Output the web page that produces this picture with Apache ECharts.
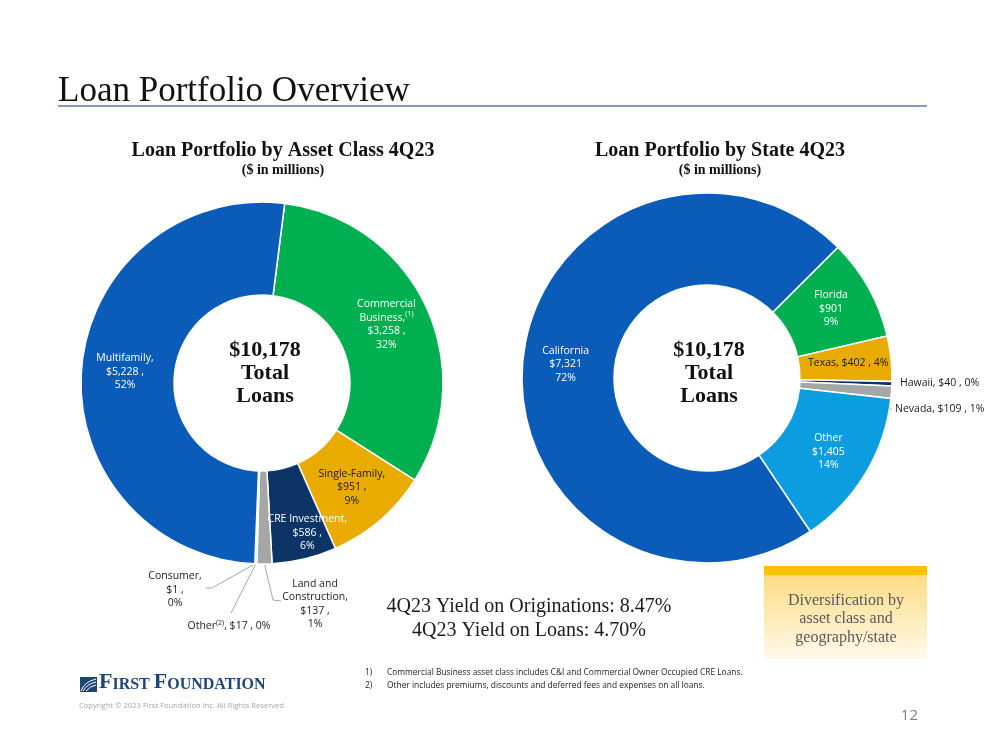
<!DOCTYPE html>
<html><head><meta charset="utf-8">
<script src="https://cdn.jsdelivr.net/npm/echarts@6/dist/echarts.min.js"></script>
<style>html,body{margin:0;padding:0;background:#fff}#c{width:999px;height:750px}</style>
</head><body><div id="c"></div>
<script>
// ---- data ----
const assetNames = ['Commercial Business', 'Single-Family', 'CRE Investment', 'Land and Construction', 'Other', 'Consumer', 'Multifamily'];
const assetValues = [3258, 951, 586, 137, 17, 1, 5228];
const assetPercents = [32, 9, 6, 1, 0, 0, 52];
const stateNames = ['Florida', 'Texas', 'Hawaii', 'Nevada', 'Other', 'California'];
const stateValues = [901, 402, 40, 109, 1405, 7321];
const statePercents = [9, 4, 0, 1, 14, 72];
const totalText = '$10,178\nTotal\nLoans';

// ---- styles ----
const assetColors = ['#00b050', '#eaab00', '#0c3466', '#a6a6a6', '#8fb8e6', '#dfe8f2', '#0a5cb8'];
const stateColors = ['#00b050', '#eaab00', '#0c3466', '#a6a6a6', '#0b9ddf', '#0a5cb8'];
const assetOutside = ['Land and Construction', 'Other', 'Consumer'];
const assetDark = ['Single-Family'];
const stateOutside = ['Hawaii', 'Nevada'];
const stateDark = ['Texas'];
const L = { cx: 262, cy: 383, r0: 88, r1: 181, start: 82.8 };
const R = { cx: 707, cy: 378, r0: 93, r1: 185, start: 45 };
const serif = '"Liberation Serif", "DejaVu Serif", serif';
const sans = '"Open Sans", "Noto Sans", sans-serif';

const money = v => '$' + v.toLocaleString('en-US');

function assetText(p) {
  const v = money(p.value), d = assetPercents[p.dataIndex] + '%';
  switch (p.name) {
    case 'Commercial Business': return 'Commercial\nBusiness,{sup|(1)}\n' + v + ' ,\n' + d;
    case 'Land and Construction': return 'Land and\nConstruction,\n' + v + ' ,\n' + d;
    case 'Other': return 'Other{sup|(2)}, ' + v + ' , ' + d;
    default: return p.name + ',\n' + v + ' ,\n' + d;
  }
}
function stateText(p) {
  const v = money(p.value), d = statePercents[p.dataIndex] + '%';
  if (['Texas', 'Hawaii', 'Nevada'].includes(p.name)) return p.name + ', ' + v + ' , ' + d;
  return p.name + '\n' + v + '\n' + d;
}

// point at mid-angle of slice i (fraction of outer radius)
function edgePoint(G, values, i, frac) {
  const tot = values.reduce((a, b) => a + b, 0);
  let acc = 0;
  for (let k = 0; k < i; k++) acc += values[k];
  const midDeg = (90 - G.start) + (acc + values[i] / 2) / tot * 360;
  const a = midDeg * Math.PI / 180, r = G.r1 * (frac || 1);
  return [G.cx + r * Math.sin(a), G.cy - r * Math.cos(a)];
}

function buildData(names, values, colors, outside, dark) {
  return names.map((n, i) => {
    const item = { name: n, value: values[i], itemStyle: { color: colors[i] } };
    if (outside.includes(n)) {
      item.label = { position: 'outside', color: '#1a1a1a' };
      item.labelLine = { show: true };
    } else if (dark.includes(n)) {
      item.label = { color: '#1a1a1a' };
    }
    return item;
  });
}

const labelBase = {
  show: true, position: 'inside', color: '#ffffff', fontFamily: sans, fontSize: 10.5,
  lineHeight: 13.5, align: 'center',
  rich: { sup: { fontSize: 7, lineHeight: 8, verticalAlign: 'top', padding: [0, 0, 6, 0] } }
};

const chart = echarts.init(document.getElementById('c'));

const option = {
  animation: false,
  backgroundColor: '#ffffff',
  series: [
    {
      type: 'pie', center: [L.cx, L.cy], radius: [L.r0, L.r1], startAngle: L.start, clockwise: true,
      avoidLabelOverlap: false, minAngle: 0,
      itemStyle: { borderColor: '#ffffff', borderWidth: 1.5 },
      label: Object.assign({}, labelBase, { formatter: assetText }),
      labelLine: { show: false, lineStyle: { color: '#a6a6a6', width: 1 } },
      emphasis: { disabled: true },
      data: buildData(assetNames, assetValues, assetColors, assetOutside, assetDark),
      labelLayout: function (p) {
        const n = assetNames[p.dataIndex];
        const pt = (dx, dy) => [L.cx + dx, L.cy + dy];
        const s = (p.labelLinePoints && p.labelLinePoints[0]) || edgePoint(L, assetValues, p.dataIndex);
        if (n === 'Land and Construction') return { x: L.cx + 53, y: L.cy + 221, align: 'center', verticalAlign: 'middle', labelLinePoints: [s, pt(11, 217), pt(19, 218)] };
        if (n === 'Consumer') return { x: L.cx - 87, y: L.cy + 207, align: 'center', verticalAlign: 'middle', labelLinePoints: [s, pt(-50, 205), pt(-56, 205)] };
        if (n === 'Other') return { x: L.cx - 33, y: L.cy + 243, align: 'center', verticalAlign: 'middle', labelLinePoints: [s, pt(-31, 230), pt(-31, 230)] };
        if (n === 'CRE Investment') return { dx: 13, dy: 16 };
        return {};
      }
    },
    {
      type: 'pie', center: [R.cx, R.cy], radius: [R.r0, R.r1], startAngle: R.start, clockwise: true,
      avoidLabelOverlap: false,
      itemStyle: { borderColor: '#ffffff', borderWidth: 1.5 },
      label: Object.assign({}, labelBase, { formatter: stateText }),
      labelLine: { show: false, lineStyle: { color: '#a6a6a6', width: 1 } },
      emphasis: { disabled: true },
      data: buildData(stateNames, stateValues, stateColors, stateOutside, stateDark).map(d => {
        if (d.name === 'Hawaii') d.labelLine = { show: false };
        return d;
      }),
      labelLayout: function (p) {
        const n = stateNames[p.dataIndex];
        const pt = (dx, dy) => [R.cx + dx, R.cy + dy];
        if (n === 'Hawaii') return { x: R.cx + 193, y: R.cy + 5, align: 'left', verticalAlign: 'middle' };
        if (n === 'Nevada') {
          const s = edgePoint(R, stateValues, p.dataIndex, 0.8);
          return { x: R.cx + 188, y: R.cy + 31, align: 'left', verticalAlign: 'middle', labelLinePoints: [s, pt(183, 31), pt(185, 31)] };
        }
        return {};
      }
    }
  ],
  graphic: [
    { type: 'text', left: 58, top: 74, style: { text: 'Loan Portfolio Overview', font: '35px ' + serif, fill: '#111111' } },
    { type: 'line', shape: { x1: 58, y1: 106, x2: 927, y2: 106 }, style: { stroke: '#7f9cbb', lineWidth: 2 } },

    { type: 'text', x: 283, y: 151, style: { text: 'Loan Portfolio by Asset Class 4Q23', font: 'bold 20px ' + serif, fill: '#111111', textAlign: 'center', textVerticalAlign: 'middle' } },
    { type: 'text', x: 283, y: 170, style: { text: '($ in millions)', font: 'bold 14px ' + serif, fill: '#111111', textAlign: 'center', textVerticalAlign: 'middle' } },
    { type: 'text', x: 720, y: 151, style: { text: 'Loan Portfolio by State 4Q23', font: 'bold 20px ' + serif, fill: '#111111', textAlign: 'center', textVerticalAlign: 'middle' } },
    { type: 'text', x: 720, y: 170, style: { text: '($ in millions)', font: 'bold 14px ' + serif, fill: '#111111', textAlign: 'center', textVerticalAlign: 'middle' } },

    { type: 'text', x: 265, y: 373, style: { text: totalText, font: 'bold 22px ' + serif, lineHeight: 23, fill: '#111111', textAlign: 'center', textVerticalAlign: 'middle' } },
    { type: 'text', x: 709, y: 373, style: { text: totalText, font: 'bold 22px ' + serif, lineHeight: 23, fill: '#111111', textAlign: 'center', textVerticalAlign: 'middle' } },

    { type: 'text', x: 529, y: 607, style: { text: '4Q23 Yield on Originations: 8.47%', font: '20px ' + serif, fill: '#1a1a1a', textAlign: 'center', textVerticalAlign: 'middle' } },
    { type: 'text', x: 529, y: 631, style: { text: '4Q23 Yield on Loans: 4.70%', font: '20px ' + serif, fill: '#1a1a1a', textAlign: 'center', textVerticalAlign: 'middle' } },

    { type: 'rect', shape: { x: 764, y: 566, width: 163, height: 93 }, style: { fill: new echarts.graphic.LinearGradient(0, 0, 0, 1, [{ offset: 0, color: '#fdd978' }, { offset: 1, color: '#fff9ea' }]) } },
    { type: 'rect', shape: { x: 764, y: 566, width: 163, height: 9 }, style: { fill: '#ffc000' } },
    { type: 'text', x: 846, y: 619, style: { text: 'Diversification by\nasset class and\ngeography/state', font: '16px ' + serif, lineHeight: 18.5, fill: '#595959', textAlign: 'center', textVerticalAlign: 'middle' } },

    { type: 'text', x: 365, y: 673, style: { text: '1)', font: '8.4px ' + sans, fill: '#1a1a1a', textVerticalAlign: 'middle' } },
    { type: 'text', x: 387, y: 673, style: { text: 'Commercial Business asset class includes C&I and Commercial Owner Occupied CRE Loans.', font: '8.4px ' + sans, fill: '#1a1a1a', textVerticalAlign: 'middle' } },
    { type: 'text', x: 365, y: 686, style: { text: '2)', font: '8.4px ' + sans, fill: '#1a1a1a', textVerticalAlign: 'middle' } },
    { type: 'text', x: 387, y: 686, style: { text: 'Other includes premiums, discounts and deferred fees and expenses on all loans.', font: '8.4px ' + sans, fill: '#1a1a1a', textVerticalAlign: 'middle' } },

    { type: 'rect', shape: { x: 80, y: 677, width: 17, height: 15 }, style: { fill: '#1f4577' } },
    { type: 'bezierCurve', shape: { x1: 81, y1: 691, x2: 96, y2: 679, cpx1: 84, cpy1: 682 }, style: { stroke: '#ffffff', lineWidth: 1, fill: null } },
    { type: 'bezierCurve', shape: { x1: 83, y1: 691, x2: 96, y2: 682, cpx1: 87, cpy1: 684 }, style: { stroke: '#ffffff', lineWidth: 1, fill: null } },
    { type: 'bezierCurve', shape: { x1: 86, y1: 691, x2: 96, y2: 685, cpx1: 90, cpy1: 686 }, style: { stroke: '#ffffff', lineWidth: 1, fill: null } },
    { type: 'text', x: 99, y: 693, style: { text: '{b|F}{s|IRST }{b|F}{s|OUNDATION}', textVerticalAlign: 'bottom', rich: { b: { font: 'bold 22px ' + serif, fill: '#1f4577', verticalAlign: 'bottom' }, s: { font: 'bold 16px ' + serif, fill: '#1f4577', verticalAlign: 'bottom' } } } },
    { type: 'text', x: 79, y: 706, style: { text: 'Copyright \u00a9 2023 First Foundation Inc. All Rights Reserved', font: '7.6px ' + sans, fill: '#a6a6a6', textVerticalAlign: 'middle' } },
    { type: 'text', x: 918, y: 716, style: { text: '12', font: '15px ' + sans, fill: '#7f7f7f', textAlign: 'right', textVerticalAlign: 'middle' } }
  ]
};
chart.setOption(option);
</script>
</body></html>
